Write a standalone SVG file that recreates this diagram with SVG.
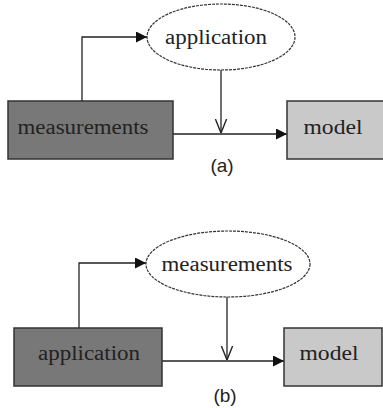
<svg xmlns="http://www.w3.org/2000/svg" width="383" height="408" viewBox="0 0 383 408">
<defs>
<style>
.lbl{font-family:"Liberation Serif",serif;font-size:20px;fill:#222;text-anchor:middle}
.cap{font-family:"Liberation Sans",sans-serif;font-size:19px;fill:#222;text-anchor:middle}
.dark{fill:#787878;stroke:#333;stroke-width:1.5}
.light{fill:#c9c9c9;stroke:#333;stroke-width:1.5}
.ell{fill:#fff;stroke:#333;stroke-width:1.2;stroke-dasharray:3 1}
.edge{fill:none;stroke:#222;stroke-width:1.3}
</style>
<marker id="fa" viewBox="0 0 10 10" refX="10" refY="5" markerWidth="11" markerHeight="11" markerUnits="userSpaceOnUse" orient="auto"><path d="M0,0L10,5L0,10z" fill="#111"/></marker>
<marker id="oa" viewBox="0 0 10 10" refX="10" refY="5" markerWidth="14" markerHeight="14" markerUnits="userSpaceOnUse" orient="auto"><path d="M0,1L10,5L0,9" fill="none" stroke="#222" stroke-width="1"/></marker>
</defs>
<rect width="383" height="408" fill="#fff"/>
<g id="edges">
<path class="edge" d="M82,101V37H147" marker-end="url(#fa)"/>
<path class="edge" d="M173,134H287" marker-end="url(#fa)"/>
<path class="edge" d="M221,70V133" marker-end="url(#oa)"/>
<path class="edge" d="M79,328V263H146" marker-end="url(#fa)"/>
<path class="edge" d="M162,361H284" marker-end="url(#fa)"/>
<path class="edge" d="M227,297V360" marker-end="url(#oa)"/>
</g>
<g id="a-measurements"><rect class="dark" x="8" y="101" width="165" height="58"/><text class="lbl" x="83" y="134" textLength="131" lengthAdjust="spacingAndGlyphs">measurements</text></g>
<g id="a-application"><ellipse class="ell" cx="221" cy="37" rx="74" ry="33"/><text class="lbl" x="216" y="44" textLength="102" lengthAdjust="spacingAndGlyphs">application</text></g>
<g id="a-model"><rect class="light" x="287" y="101" width="100" height="58"/><text class="lbl" x="333" y="134" textLength="59" lengthAdjust="spacingAndGlyphs">model</text></g>
<text class="cap" x="222" y="172">(a)</text>
<g id="b-application"><rect class="dark" x="14" y="328" width="148" height="58"/><text class="lbl" x="89" y="360" textLength="102" lengthAdjust="spacingAndGlyphs">application</text></g>
<g id="b-measurements"><ellipse class="ell" cx="228" cy="264" rx="82" ry="33"/><text class="lbl" x="227" y="271" textLength="131" lengthAdjust="spacingAndGlyphs">measurements</text></g>
<g id="b-model"><rect class="light" x="284" y="328" width="98" height="58"/><text class="lbl" x="329" y="360" textLength="59" lengthAdjust="spacingAndGlyphs">model</text></g>
<text class="cap" x="225" y="402">(b)</text>
</svg>
